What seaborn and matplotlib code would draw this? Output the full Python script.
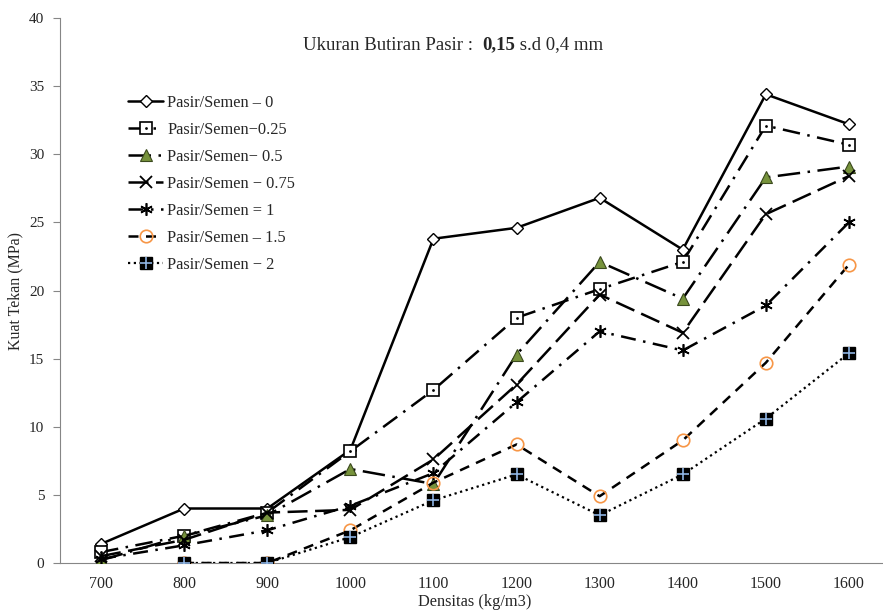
import numpy as np
import pandas as pd
import matplotlib
matplotlib.use("Agg")
import matplotlib.pyplot as plt
import seaborn as sns
from matplotlib.lines import Line2D
from matplotlib.legend_handler import HandlerTuple

categories = ["700", "800", "900", "1000", "1100", "1200", "1300", "1400", "1500", "1600"]
s_0 = [1.4, 4.0, 4.0, 8.3, 23.8, 24.6, 26.8, 23.0, 34.4, 32.2]
s_025 = [0.8, 2.0, 3.7, 8.2, 12.7, 18.0, 20.1, 22.1, 32.1, 30.7]
s_05 = [0.2, 2.0, 3.5, 6.9, 5.8, 15.3, 22.1, 19.4, 28.3, 29.1]
s_075 = [0.5, 1.7, 3.7, 3.9, 7.6, 13.1, 19.7, 16.9, 25.6, 28.4]
s_1 = [0.3, 1.3, 2.4, 4.2, 6.6, 11.8, 17.0, 15.6, 18.9, 25.0]
s_15 = [np.nan, 0.0, 0.0, 2.4, 5.9, 8.7, 4.9, 9.0, 14.7, 21.9]
s_2 = [np.nan, 0.0, 0.0, 1.9, 4.6, 6.5, 3.5, 6.5, 10.6, 15.4]
labels = ["Pasir/Semen \u2013 0", "Pasir/Semen\u22120.25", "Pasir/Semen\u2212 0.5",
          "Pasir/Semen \u2212 0.75", "Pasir/Semen = 1", "Pasir/Semen \u2013 1.5",
          "Pasir/Semen \u2212 2"]
series = [s_0, s_025, s_05, s_075, s_1, s_15, s_2]
title_parts = ["Ukuran Butiran Pasir :  ", "0,15", " s.d 0,4 mm"]

sns.set_theme(style="white")
plt.rcParams["font.family"] = ["Liberation Serif", "DejaVu Serif"]

fig = plt.figure(figsize=(8.83, 6.14), dpi=100)
ax = fig.add_axes([59.5 / 883, 51 / 614, 831 / 883, 545 / 614])

pos = np.arange(len(categories))
styles = [
    dict(ls="-", marker="D", ms=6, mfc="white", mec="black", mew=1.0),
    dict(ls=(0, (7, 3, 1, 3)), marker="s", ms=8, mfc="white", mec="black", mew=1.2),
    dict(ls=(0, (9, 3, 1, 3)), marker="^", ms=9, mfc="#77933C", mec="#3b4a1e", mew=0.8),
    dict(ls=(0, (8, 3)), marker="x", ms=8, mfc="black", mec="black", mew=1.3),
    dict(ls=(0, (6, 3, 1, 3)), marker=(6, 2, 0), ms=9, mfc="black", mec="black", mew=1.2),
    dict(ls=(0, (4, 3)), marker="o", ms=9, mfc="none", mec="#F79646", mew=1.2),
    dict(ls=(0, (1, 1.6)), marker="s", ms=9, mfc="black", mec="black", mew=1.0),
]
overlays = {1: dict(marker="o", ms=2, mfc="black", mec="black", mew=0),
            6: dict(marker="+", ms=9, mfc="#8EB4E3", mec="#8EB4E3", mew=1.2)}

handles = []
for i, (vals, lab, st) in enumerate(zip(series, labels, styles)):
    df = pd.DataFrame({"x": pos, "y": vals}).dropna()
    lw = 1.8 if i != 6 else 1.6
    sns.lineplot(data=df, x="x", y="y", ax=ax, color="black", lw=lw,
                 linestyle=st["ls"], marker=st["marker"], markersize=st["ms"],
                 markerfacecolor=st["mfc"], markeredgecolor=st["mec"],
                 markeredgewidth=st["mew"], zorder=3 + i, legend=False)
    base = Line2D([], [], color="black", lw=lw, linestyle=st["ls"], marker=st["marker"],
                  markersize=st["ms"], markerfacecolor=st["mfc"],
                  markeredgecolor=st["mec"], markeredgewidth=st["mew"])
    if i in overlays:
        o = overlays[i]
        ax.plot(df["x"], df["y"], ls="none", marker=o["marker"], ms=o["ms"],
                mfc=o["mfc"], mec=o["mec"], mew=o["mew"], zorder=3 + i + 0.5)
        ov = Line2D([], [], ls="none", marker=o["marker"], markersize=o["ms"],
                    markerfacecolor=o["mfc"], markeredgecolor=o["mec"],
                    markeredgewidth=o["mew"])
        handles.append((base, ov))
    else:
        handles.append(base)

ax.set_xlim(-0.5, len(categories) - 0.5)
ax.set_ylim(0, 40)
ax.set_yticks(np.arange(0, 41, 5))
ax.set_yticklabels([str(v) for v in range(0, 41, 5)], fontsize=11)
ax.set_xticks(pos)
ax.set_xticklabels(categories, fontsize=11.5)
ax.set_xticks(np.arange(-0.5, len(categories), 1.0), minor=True)
ax.tick_params(axis="x", which="major", length=0, pad=9)
ax.tick_params(axis="x", which="minor", length=5, color="#868686", width=0.8, direction="out")
ax.tick_params(axis="y", which="major", length=5, color="#868686", width=0.8,
               direction="out", pad=6, left=True)
for sp in ["top", "right"]:
    ax.spines[sp].set_visible(False)
for sp in ["left", "bottom"]:
    ax.spines[sp].set_color("#868686")
    ax.spines[sp].set_linewidth(0.8)
ax.set_xlabel("Densitas (kg/m3)", fontsize=11.8, labelpad=2)
ax.set_ylabel("Kuat Tekan (MPa)", fontsize=11.5, labelpad=4)
ax.grid(False)

# title composed of normal / bold / normal parts
renderer = fig.canvas.get_renderer()
weights = ["normal", "bold", "normal"]
tx = ax.text(303 / 883, 569 / 614, title_parts[0], transform=fig.transFigure,
             ha="left", va="center", fontsize=13.5, fontweight=weights[0])
for part, w in zip(title_parts[1:], weights[1:]):
    ext = tx.get_window_extent(renderer=renderer)
    tx = fig.text(ext.x1 / fig.bbox.width, 569 / 614, part, ha="left", va="center",
                  fontsize=13.5, fontweight=w)

leg = ax.legend(handles, labels, loc="upper left", bbox_to_anchor=(0.0725, 0.874),
                frameon=False, fontsize=11.8, handlelength=2.15, handletextpad=0.25,
                labelspacing=0.67, borderpad=0, numpoints=1,
                handler_map={tuple: HandlerTuple(ndivide=1, pad=0)})

fig.savefig("out.png", dpi=100)
